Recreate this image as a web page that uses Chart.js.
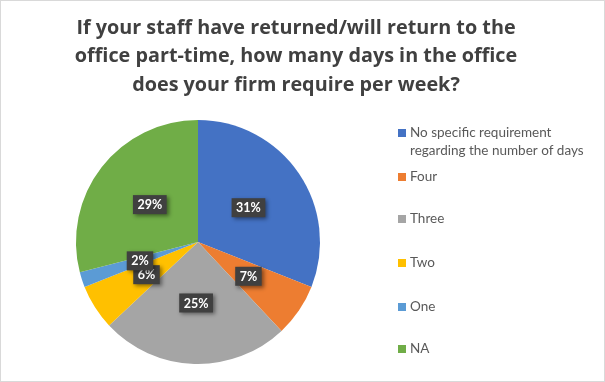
<!DOCTYPE html>
<html>
<head>
<meta charset="utf-8">
<script src="https://cdn.jsdelivr.net/npm/chart.js@4.4.0/dist/chart.umd.min.js"></script>
<style>
  html, body { margin: 0; padding: 0; background: #fff; }
  #wrap { position: relative; width: 603px; height: 380px; border: 1px solid #d9d9d9; }
  canvas { display: block; }
</style>
</head>
<body>
<div id="wrap"><canvas id="myChart" width="603" height="380"></canvas></div>
<script>
    "use strict";

    var titleLines = ['If your staff have returned/will return to the',
        'office part-time, how many days in the office',
        'does your firm require per week?'];
    var categories = [['No specific requirement', 'regarding the number of days'],
        'Four', 'Three', 'Two', 'One', 'NA'];
    var shares = [31, 7, 25, 6, 2, 29];
    var colors = ['#4472C4', '#ED7D31', '#A5A5A5', '#FFC000', '#5B9BD5', '#70AD47'];

    // title + legend drawn by hand, Excel style
    var decorPlugin = {
        id: 'decor',
        afterDraw: function (chart) {
            var ctx = chart.ctx;
            ctx.save();
            ctx.fillStyle = '#404040';
            ctx.font = 'bold 19.8px "Open Sans"';
            ctx.textAlign = 'center';
            ctx.textBaseline = 'middle';
            titleLines.forEach(function (t, i) {
                ctx.fillText(t, 295, 27 + i * 28.5);
            });

            // legend
            var ys = [132, 176, 218, 262, 306, 348];
            ctx.font = '13.5px Lato';
            ctx.textAlign = 'left';
            categories.forEach(function (c, i) {
                ctx.fillStyle = colors[i];
                ctx.fillRect(397, ys[i] - 4, 8, 8);
                ctx.fillStyle = '#595959';
                var lines = Array.isArray(c) ? c : [c];
                lines.forEach(function (l, j) {
                    ctx.fillText(l, 409, ys[i] + j * 18);
                });
            });

            // data labels in dark boxes
            var meta = chart.getDatasetMeta(0);
            ctx.font = 'bold 12.5px Lato';
            ctx.textAlign = 'center';
            meta.data.forEach(function (arc, i) {
                var p = arc.tooltipPosition();
                var txt = shares[i] + '%';
                var w = ctx.measureText(txt).width + 9;
                var h = 19;
                ctx.save();
                ctx.shadowColor = 'rgba(0,0,0,0.45)';
                ctx.shadowBlur = 4;
                ctx.shadowOffsetX = 2;
                ctx.shadowOffsetY = 2;
                ctx.fillStyle = '#404040';
                ctx.fillRect(p.x - w / 2, p.y - h / 2, w, h);
                ctx.restore();
                ctx.fillStyle = '#ffffff';
                ctx.fillText(txt, p.x, p.y + 0.5);
            });
            ctx.restore();
        }
    };

    var ctx = document.getElementById('myChart').getContext('2d');
    var chart = new Chart(ctx, {
        type: 'pie',
        data: {
            labels: categories,
            datasets: [{
                data: shares,
                backgroundColor: colors,
                borderWidth: 0
            }]
        },
        options: {
            responsive: false,
            animation: false,
            layout: {
                padding: { left: 75, right: 284, top: 119, bottom: 17 }
            },
            plugins: {
                legend: { display: false },
                title: { display: false },
                tooltip: { enabled: false }
            }
        },
        plugins: [decorPlugin]
    });
</script>
</body>
</html>
